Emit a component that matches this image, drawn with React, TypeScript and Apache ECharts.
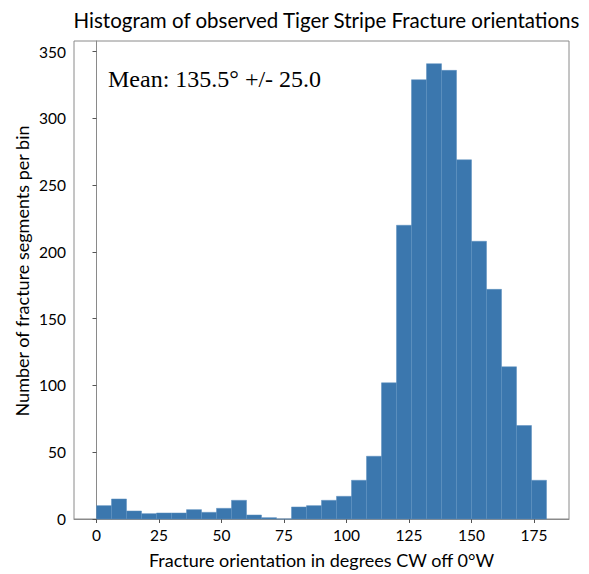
import React, { useEffect, useRef } from "react";
import * as echarts from "echarts";

// Histogram bins: 30 bins of 6 degrees from 0 to 180
const binEdges = [0, 6, 12, 18, 24, 30, 36, 42, 48, 54, 60, 66, 72, 78, 84, 90, 96, 102, 108, 114, 120, 126, 132, 138, 144, 150, 156, 162, 168, 174, 180];
const counts = [10, 15, 6, 4, 4.5, 4.5, 7, 5, 8, 14, 3, 1, 0, 9, 10, 14, 17, 29, 47, 102, 220, 329, 341, 336, 269, 208, 172, 114, 70, 29];
const xTicks = [0, 25, 50, 75, 100, 125, 150, 175];
const yTicks = [0, 50, 100, 150, 200, 250, 300, 350];

const titleText = "Histogram of observed Tiger Stripe Fracture orientations";
const xLabel = "Fracture orientation in degrees CW off 0°W";
const yLabel = "Number of fracture segments per bin";
const meanText = "Mean: 135.5° +/- 25.0";

export default function App() {
  const ref = useRef<HTMLDivElement>(null);
  useEffect(() => {
    if (!ref.current) return;
    const chart = echarts.init(ref.current, undefined, { renderer: "svg" });
    const data = counts.map((c, i) => [binEdges[i], binEdges[i + 1], c]);
    const sans = "Lato";
    chart.setOption({
      animation: false,
      backgroundColor: "#ffffff",
      title: {
        text: titleText,
        left: 321.5,
        top: 4,
        textAlign: "center",
        textStyle: { fontFamily: sans, fontSize: 20.5, fontWeight: "normal", color: "#000" },
      },
      grid: {
        left: 74,
        right: 20,
        top: 41,
        bottom: 51,
        show: true,
        borderColor: "#8a8a8a",
        borderWidth: 1,
        backgroundColor: "transparent",
      },
      xAxis: {
        type: "value",
        min: -9,
        max: 189,
        name: xLabel,
        nameLocation: "middle",
        nameGap: 32,
        nameTextStyle: { fontFamily: sans, fontSize: 18, color: "#000" },
        splitLine: { show: false },
        axisLine: { show: true, lineStyle: { color: "#8a8a8a" } },
        axisTick: { show: true, customValues: xTicks, length: 4, lineStyle: { color: "#555" } },
        axisLabel: { customValues: xTicks, fontFamily: sans, fontSize: 15.5, color: "#000", margin: 8 },
      },
      yAxis: {
        type: "value",
        min: 0,
        max: 358,
        splitLine: { show: false },
        axisLine: { show: true, lineStyle: { color: "#8a8a8a" } },
        axisTick: { show: true, customValues: yTicks, length: 4, lineStyle: { color: "#555" } },
        axisLabel: { customValues: yTicks, fontFamily: sans, fontSize: 15.5, color: "#000", margin: 8 },
      },
      graphic: [
        {
          type: "text",
          left: 108,
          top: 67,
          style: {
            text: meanText,
            font: '24px "Liberation Serif"',
            fill: "#000",
          },
        },
        {
          type: "text",
          x: 22,
          y: 271,
          rotation: Math.PI / 2,
          style: {
            text: yLabel,
            font: '18px "Lato"',
            fill: "#000",
            align: "center",
            verticalAlign: "middle",
          },
        },
      ],
      series: [
        {
          type: "custom",
          data,
          encode: { x: [0, 1], y: 2 },
          renderItem: (params: any, api: any) => {
            const p0 = api.coord([api.value(0), api.value(2)]);
            const p1 = api.coord([api.value(1), 0]);
            return {
              type: "rect",
              shape: { x: p0[0], y: p0[1], width: p1[0] - p0[0], height: p1[1] - p0[1] },
              style: { fill: "#3b77ae", stroke: "#5b8fbf", lineWidth: 0.5 },
            };
          },
        },
      ],
    });
    return () => chart.dispose();
  }, []);
  return (
    <div
      ref={ref}
      style={{ position: "fixed", left: 0, top: 0, width: 589, height: 574, background: "#fff" }}
    />
  );
}
